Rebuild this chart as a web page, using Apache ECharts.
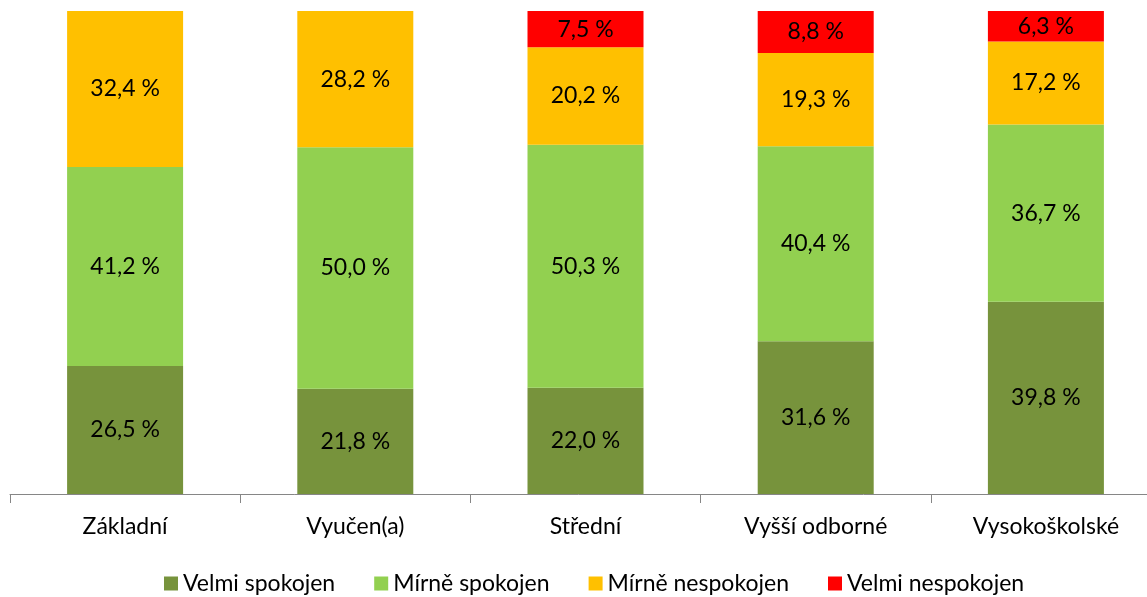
<!DOCTYPE html>
<html>
<head>
<meta charset="utf-8">
<script src="https://cdn.jsdelivr.net/npm/echarts@6/dist/echarts.min.js"></script>
<style>
  html, body { margin: 0; padding: 0; background: #fff; }
  #chart { width: 1147px; height: 597px; }
</style>
</head>
<body>
<div id="chart"></div>
<script>
// data (percent)
const categories = ['Základní', 'Vyučen(a)', 'Střední', 'Vyšší odborné', 'Vysokoškolské'];
const velmiSpokojen = [26.5, 21.8, 22.0, 31.6, 39.8];
const mirneSpokojen = [41.2, 50.0, 50.3, 40.4, 36.7];
const mirneNespokojen = [32.4, 28.2, 20.2, 19.3, 17.2];
const velmiNespokojen = [null, null, 7.5, 8.8, 6.3];

const seriesNames = ['Velmi spokojen', 'Mírně spokojen', 'Mírně nespokojen', 'Velmi nespokojen'];
const colors = ['#77933C', '#92D050', '#FFC000', '#FF0000'];
const font = 'Lato, "Open Sans", sans-serif';

function fmt(p) {
  if (p.value == null) return '';
  return p.value.toFixed(1).replace('.', ',') + ' %';
}

let myChart = echarts.init(document.getElementById('chart'));
const allData = [velmiSpokojen, mirneSpokojen, mirneNespokojen, velmiNespokojen];

myChart.setOption({
  animation: false,
  textStyle: { fontFamily: font },
  legend: {
    data: seriesNames,
    top: 567,
    left: 159,
    itemWidth: 14,
    itemHeight: 14,
    itemGap: 39,
    icon: 'rect',
    textStyle: { fontSize: 23, color: '#000', fontFamily: font }
  },
  // the last category runs past the right edge in the original, as if cropped
  grid: { left: 10, width: 1151, top: 11, bottom: 103, outerBoundsMode: 'none' },
  xAxis: {
    type: 'category',
    data: categories,
    axisLine: { lineStyle: { color: '#868686', width: 1 } },
    axisTick: { show: true, length: 9, lineStyle: { color: '#868686' } },
    axisLabel: { color: '#000', fontSize: 23, margin: 21, fontFamily: font }
  },
  yAxis: {
    type: 'value',
    min: 0,
    max: 100,
    show: false,
    splitLine: { show: false }
  },
  series: allData.map((d, i) => ({
    name: seriesNames[i],
    type: 'bar',
    stack: 'total',
    barWidth: 116,
    data: d,
    itemStyle: { color: colors[i] },
    label: {
      show: true,
      position: 'inside',
      color: '#000',
      fontSize: 23,
      fontFamily: font,
      formatter: fmt
    }
  }))
});
</script>
</body>
</html>
